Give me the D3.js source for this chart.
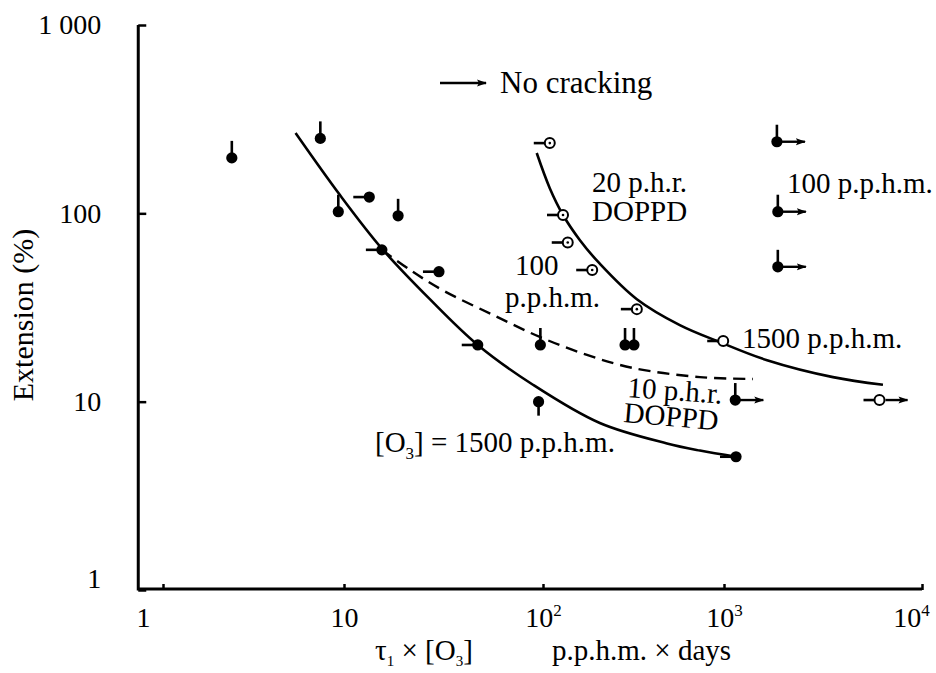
<!DOCTYPE html>
<html>
<head>
<meta charset="utf-8">
<script src="https://cdn.jsdelivr.net/npm/d3@7"></script>
<style>
  body { margin: 0; background: #fff; }
  svg { display: block; }
  text { font-family: 'Liberation Serif', 'Times New Roman', serif; fill: #000; }
</style>
</head>
<body>
<div id="chart"></div>
<script>
// tick values and labels
const xTicks = [1, 10, 100, 1000, 10000];
const xTickBase = ['1', '10', '10', '10', '10'];
const xTickSup = ['', '', '2', '3', '4'];
const yTicks = [1, 10, 100, 1000];
const yTickLabels = ['1', '10', '100', '1 000'];

// cracked samples (filled), tail = direction of the stalk, arrow = no cracking
const filledPoints = [
  { x: 2.4, y: 197, tail: 'up' },
  { x: 7.4, y: 250, tail: 'up' },
  { x: 9.3, y: 102, tail: 'up' },
  { x: 13.4, y: 122, tail: 'left' },
  { x: 18.7, y: 97, tail: 'up' },
  { x: 15.5, y: 64, tail: 'left' },
  { x: 30, y: 49, tail: 'left' },
  { x: 47, y: 20, tail: 'left' },
  { x: 97, y: 20, tail: 'up' },
  { x: 95, y: 10, tail: 'down' },
  { x: 284, y: 20, tail: 'up' },
  { x: 318, y: 20, tail: 'up' },
  { x: 1140, y: 10.2, tail: 'up', arrow: true },
  { x: 1150, y: 5.1, tail: 'left' },
  { x: 1850, y: 240, tail: 'up', arrow: true },
  { x: 1870, y: 102, tail: 'up', arrow: true },
  { x: 1870, y: 52, tail: 'up', arrow: true },
];

// 20 p.h.r. DOPPD samples (open)
const openPoints = [
  { x: 109, y: 236, tail: 'left', dot: true },
  { x: 129, y: 98, tail: 'left', dot: true },
  { x: 137, y: 70, tail: 'left', dot: true },
  { x: 187, y: 50, tail: 'left', dot: true },
  { x: 330, y: 31, tail: 'left', dot: true },
  { x: 990, y: 21, tail: 'left' },
  { x: 6100, y: 10.2, tail: 'left', arrow: true },
];

// fitted curves
const curveO3 = [[5.4, 267], [9.5, 125], [15.5, 65], [27, 35], [47, 20], [89, 12.3],
  [206, 7.7], [484, 6.0], [736, 5.5], [1150, 5.1]];
const curve20phr = [[93, 209], [109, 136], [129, 98], [160, 72], [206, 54], [330, 35],
  [570, 25.5], [950, 20.7], [1650, 16.6], [3550, 13.5], [6350, 12.3]];
const curve10phr = [[15.5, 64], [21.5, 50], [31.4, 39], [56, 28.9], [97, 22], [175, 17.7],
  [314, 15.1], [736, 13.5], [1400, 13.2]];

const width = 936;
const height = 673;

const svg = d3.select('#chart').append('svg')
  .attr('width', width)
  .attr('height', height);

svg.append('defs').append('marker')
  .attr('id', 'arrowhead')
  .attr('markerUnits', 'userSpaceOnUse')
  .attr('viewBox', '0 -4 10 8')
  .attr('refX', 9)
  .attr('refY', 0)
  .attr('markerWidth', 10)
  .attr('markerHeight', 8)
  .attr('orient', 'auto')
  .append('path')
  .attr('d', 'M0,-3.5L10,0L0,3.5L2,0Z')
  .attr('fill', '#000');

// the printed decades are not quite even, so the log scale is piecewise
const x = d3.scaleLog()
  .domain(xTicks)
  .range([163, 344, 543, 724, 922]);
const y = d3.scaleLog()
  .domain([1, 1000])
  .range([590, 25]);

const axisLeftEdge = x(0.73);

// axes
const xAxis = svg.append('g')
  .attr('transform', `translate(0,${y(1)})`)
  .call(d3.axisBottom(x)
    .tickValues(xTicks)
    .tickSizeInner(-6)
    .tickSizeOuter(0)
    .tickPadding(17));
xAxis.select('.domain').remove();
xAxis.selectAll('.tick line').attr('stroke-width', 2.5);
xAxis.selectAll('.tick text')
  .attr('font-size', 28)
  .attr('font-family', "'Liberation Serif', serif")
  .each(function addSup(d, i) {
    const t = d3.select(this).text(null);
    t.append('tspan').text(xTickBase[i]);
    if (xTickSup[i]) {
      t.append('tspan').attr('font-size', 17).attr('dy', -11).text(xTickSup[i]);
    }
    if (i === 0) t.attr('dx', -20);
    if (i === xTicks.length - 1) t.attr('dx', -11);
  });

const yAxis = svg.append('g')
  .attr('transform', `translate(${axisLeftEdge},0)`)
  .call(d3.axisLeft(y)
    .tickValues(yTicks)
    .tickSizeInner(-8)
    .tickSizeOuter(0)
    .tickPadding(37)
    .tickFormat((d, i) => yTickLabels[i]));
yAxis.select('.domain').remove();
yAxis.selectAll('.tick line').attr('stroke-width', 2.5);
yAxis.selectAll('.tick text')
  .attr('font-size', 28)
  .attr('font-family', "'Liberation Serif', serif")
  .attr('dy', d => (d === 1 ? '-0.1em' : '0.32em'));

svg.append('path')
  .attr('d', `M${axisLeftEdge},${y(1000)}V${y(1) - 1}H${x(10000)}`)
  .attr('fill', 'none')
  .attr('stroke', '#000')
  .attr('stroke-width', 3);

// curves
const line = d3.line()
  .x(d => x(d[0]))
  .y(d => y(d[1]))
  .curve(d3.curveCatmullRom.alpha(0.5));

svg.append('path').datum(curveO3)
  .attr('d', line)
  .attr('fill', 'none')
  .attr('stroke', '#000')
  .attr('stroke-width', 2.6);
svg.append('path').datum(curve20phr)
  .attr('d', line)
  .attr('fill', 'none')
  .attr('stroke', '#000')
  .attr('stroke-width', 2.6);
svg.append('path').datum(curve10phr)
  .attr('d', line)
  .attr('fill', 'none')
  .attr('stroke', '#000')
  .attr('stroke-width', 2.4)
  .attr('stroke-dasharray', '12,7');

// markers
const tailEnd = {
  up: [0, -17],
  left: [-16, 0],
  down: [0, 14],
};

const drawPoints = function drawPoints(data, open) {
  const g = svg.append('g').selectAll('g')
    .data(data)
    .enter()
    .append('g')
    .attr('transform', d => `translate(${x(d.x)},${y(d.y)})`);

  g.append('line')
    .attr('x2', d => tailEnd[d.tail][0])
    .attr('y2', d => tailEnd[d.tail][1])
    .attr('stroke', '#000')
    .attr('stroke-width', 2.6);

  g.filter(d => d.arrow)
    .append('line')
    .attr('x1', open ? 6 : 0)
    .attr('x2', 28)
    .attr('stroke', '#000')
    .attr('stroke-width', 2.4)
    .attr('marker-end', 'url(#arrowhead)');

  g.append('circle')
    .attr('r', open ? 5 : 5.6)
    .attr('fill', open ? '#fff' : '#000')
    .attr('stroke', '#000')
    .attr('stroke-width', open ? 2 : 0);

  g.filter(d => d.dot)
    .append('circle')
    .attr('r', 1.3)
    .attr('fill', '#000');
};

drawPoints(filledPoints, false);
drawPoints(openPoints, true);

// legend
svg.append('line')
  .attr('x1', 440)
  .attr('x2', 486)
  .attr('y1', 83)
  .attr('y2', 83)
  .attr('stroke', '#000')
  .attr('stroke-width', 2.6)
  .attr('marker-end', 'url(#arrowhead)');
svg.append('text')
  .attr('x', 500)
  .attr('y', 93)
  .attr('font-size', 31)
  .text('No cracking');

// annotations
const label = function label(px, py, str, rot) {
  const t = svg.append('text')
    .attr('x', px)
    .attr('y', py)
    .attr('font-size', 29)
    .text(str);
  if (rot) t.attr('transform', `rotate(${rot},${px},${py})`);
  return t;
};

label(592, 192, '20 p.h.r.');
label(592, 221, 'DOPPD');
label(787, 193, '100 p.p.h.m.');
label(515, 275, '100');
label(505, 307, 'p.p.h.m.');
label(742, 348, '1500 p.p.h.m.');
label(627, 397, '10 p.h.r.', 4);
label(623, 422, 'DOPPD', 5);

const o3 = svg.append('text')
  .attr('x', 375)
  .attr('y', 452)
  .attr('font-size', 29);
o3.append('tspan').text('[O');
o3.append('tspan').attr('font-size', 17).attr('dy', 7).text('3');
o3.append('tspan').attr('dy', -7).text('] = 1500 p.p.h.m.');

// axis titles
svg.append('text')
  .attr('transform', `translate(33,315) rotate(-90)`)
  .attr('text-anchor', 'middle')
  .attr('font-size', 30)
  .text('Extension (%)');

const xt = svg.append('text')
  .attr('x', 375)
  .attr('y', 660)
  .attr('font-size', 29);
xt.append('tspan').text('τ');
xt.append('tspan').attr('font-size', 15).attr('dy', 6).text('1');
xt.append('tspan').attr('dy', -6).text(' × [O');
xt.append('tspan').attr('font-size', 15).attr('dy', 6).text('3');
xt.append('tspan').attr('dy', -6).text(']');

svg.append('text')
  .attr('x', 552)
  .attr('y', 660)
  .attr('font-size', 29)
  .text('p.p.h.m. × days');
</script>
</body>
</html>
